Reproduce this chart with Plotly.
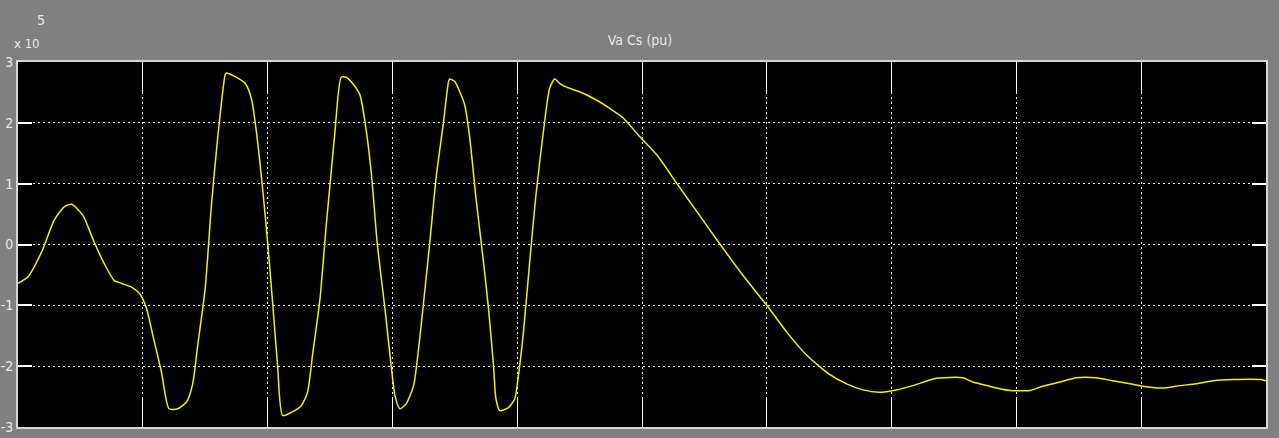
import plotly.graph_objects as go

# Scope trace of Va Cs, time in scope divisions, values in units of 1e5
t_div = [0.00, 0.08, 0.19, 0.29, 0.37, 0.43, 0.52, 0.61, 0.69, 0.77,
         0.83, 0.91, 0.975, 1.03, 1.08, 1.15, 1.21, 1.28, 1.35, 1.40,
         1.44, 1.50, 1.55, 1.60, 1.66, 1.67, 1.74, 1.82, 1.87, 1.91,
         1.96, 2.00, 2.04, 2.08, 2.12, 2.19, 2.27, 2.32, 2.36, 2.42,
         2.47, 2.50, 2.54, 2.59, 2.63, 2.68, 2.74, 2.78, 2.83, 2.88,
         2.94, 2.99, 3.02, 3.06, 3.11, 3.17, 3.21, 3.25, 3.30, 3.35,
         3.41, 3.45, 3.46, 3.50, 3.54, 3.58, 3.62, 3.67, 3.73, 3.77,
         3.81, 3.83, 3.86, 3.93, 3.98, 4.01, 4.05, 4.10, 4.15, 4.21,
         4.26, 4.30, 4.34, 4.39, 4.50, 4.63, 4.74, 4.85, 4.97, 5.12,
         5.28, 5.44, 5.62, 5.81, 6.00, 6.16, 6.32, 6.50, 6.64, 6.77,
         6.90, 7.04, 7.17, 7.36, 7.57, 7.65, 7.73, 7.84, 7.95, 8.11,
         8.21, 8.35, 8.48, 8.64, 8.77, 8.91, 9.04, 9.17, 9.31, 9.44,
         9.58, 9.74, 9.96, 10.0]

va_cs = [-0.64, -0.53, -0.12, 0.40, 0.62, 0.66, 0.48, 0.04, -0.31, -0.59,
         -0.64, -0.70, -0.81, -1.05, -1.49, -2.10, -2.70, -2.70, -2.59, -2.29,
         -1.66, -0.72, 0.65, 1.75, 2.79, 2.82, 2.76, 2.65, 2.40, 1.86,
         0.92, 0.04, -0.95, -1.99, -2.81, -2.76, -2.65, -2.43, -1.82, -0.89,
         0.32, 0.98, 1.86, 2.75, 2.75, 2.65, 2.46, 2.02, 1.20, -0.01,
         -1.05, -1.99, -2.48, -2.70, -2.62, -2.32, -1.71, -0.95, 0.04, 1.09,
         2.02, 2.68, 2.72, 2.68, 2.51, 2.29, 1.75, 0.76, -0.29, -1.05,
         -1.99, -2.54, -2.73, -2.68, -2.54, -2.15, -1.44, -0.29, 0.81, 1.86,
         2.57, 2.72, 2.65, 2.59, 2.51, 2.38, 2.24, 2.08, 1.80, 1.47,
         1.00, 0.54, 0.02, -0.51, -1.00, -1.44, -1.82, -2.13, -2.29, -2.39,
         -2.43, -2.39, -2.32, -2.20, -2.19, -2.26, -2.30, -2.36, -2.40, -2.40,
         -2.33, -2.26, -2.19, -2.19, -2.24, -2.29, -2.34, -2.36, -2.32, -2.29,
         -2.24, -2.22, -2.22, -2.24]

y_ticks = [3, 2, 1, 0, -1, -2, -3]
y_tick_labels = ["3", "2", "1", "0", "-1", "-2", "-3"]
x_ticks = list(range(0, 11))

FONT = "Liberation Sans Narrow, DejaVu Sans Condensed, Arial Narrow, sans-serif"
TEXT = "#e8e8e8"

fig = go.Figure()
fig.add_trace(go.Scatter(
    x=t_div, y=va_cs, mode="lines",
    line=dict(color="#f2f200", width=1.5, shape="spline", smoothing=0.6),
    hoverinfo="skip", showlegend=False,
))

fig.update_layout(
    width=1279, height=438,
    margin=dict(l=18, r=13, t=62, b=11, pad=0, autoexpand=False),
    paper_bgcolor="#808080",
    plot_bgcolor="#000000",
    title=dict(
        text="Va Cs (pu)", x=0.5004, y=1 - 40 / 438,
        xanchor="center", yanchor="middle",
        font=dict(family=FONT, size=14, color=TEXT),
    ),
    font=dict(family=FONT, color=TEXT),
    annotations=[
        dict(text="x 10", xref="paper", yref="paper", x=0.0072, y=1.052,
             xanchor="center", yanchor="middle", showarrow=False,
             font=dict(family=FONT, size=13, color=TEXT)),
        dict(text="5", xref="paper", yref="paper", x=0.0184, y=1.115,
             xanchor="center", yanchor="middle", showarrow=False,
             font=dict(family=FONT, size=14, color=TEXT)),
    ],
)

fig.update_xaxes(
    range=[0, 10], tickvals=x_ticks, showticklabels=False,
    ticks="inside", ticklen=30, tickwidth=1, tickcolor="#ffffff",
    showline=True, linecolor="#d6d6d6", linewidth=2, mirror="ticks",
    showgrid=True, gridcolor="#ffffff", gridwidth=1, griddash="2px,3px",
    zeroline=False, fixedrange=True, automargin=False,
)
fig.update_yaxes(
    range=[-3, 3], tickvals=y_ticks, ticktext=y_tick_labels,
    tickfont=dict(family=FONT, size=14, color=TEXT),
    ticks="inside", ticklen=14, tickwidth=2, tickcolor="#ffffff",
    showline=True, linecolor="#d6d6d6", linewidth=2, mirror="ticks",
    showgrid=True, gridcolor="#ffffff", gridwidth=1, griddash="2px,3px",
    zeroline=False, fixedrange=True, automargin=False, ticklabelstandoff=0,
)

fig.write_html("out.html")
